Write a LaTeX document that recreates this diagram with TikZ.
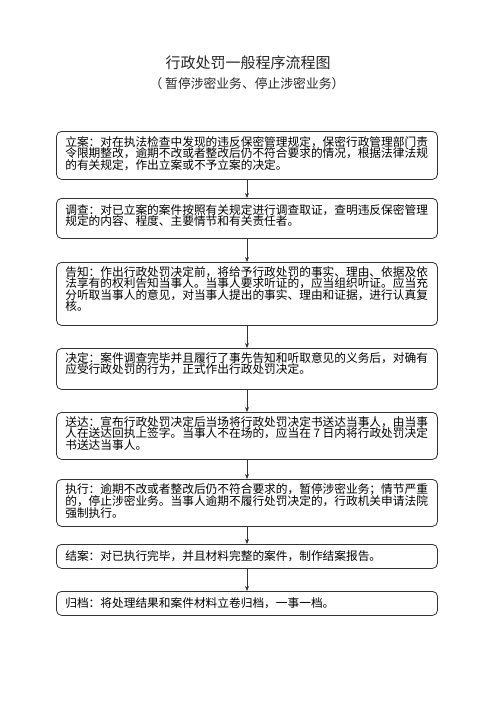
\documentclass[tikz,border=0pt]{standalone}
\usepackage{fontspec}
\setmainfont{Noto Sans CJK SC}
\newfontfamily\cjk{Noto Sans CJK SC}
\usetikzlibrary{arrows.meta}
\tikzset{
  stepbox/.style={draw=black!80, line width=0.8pt, rounded corners=5pt, minimum width=381pt, anchor=north},
  boxtext/.style={anchor=north west, inner sep=0pt, align=left, font=\cjk\fontsize{11.7pt}{11.6pt}\selectfont},
  flow/.style={draw=black!80, line width=0.8pt, -{Stealth[length=5pt,width=4pt]}},
}
\begin{document}
\begin{tikzpicture}[x=1pt,y=-1pt]
\useasboundingbox (0,0) rectangle (496,702);
\fill[white] (0,0) rectangle (496,702);
\node[font=\cjk\fontsize{15pt}{16pt}\selectfont, text=black!85] (t1) at (248,63) {行政处罚一般程序流程图};
\node[font=\cjk\fontsize{12.8pt}{14pt}\selectfont, text=black!85] (t2) at (247,84) {（ 暂停涉密业务、停止涉密业务）};

% boxes
\node[stepbox, minimum height=48pt] (b1) at (247,131) {};
\node[boxtext] at ([shift={(9,5)}]b1.north west) {立案：对在执法检查中发现的违反保密管理规定，保密行政管理部门责\\令限期整改，逾期不改或者整改后仍不符合要求的情况，根据法律法规\\的有关规定，作出立案或不予立案的决定。};

\node[stepbox, minimum height=40pt] (b2) at (247,198) {};
\node[boxtext] at ([shift={(9,6)}]b2.north west) {调查：对已立案的案件按照有关规定进行调查取证，查明违反保密管理\\规定的内容、程度、主要情节和有关责任者。};

\node[stepbox, minimum height=63pt] (b3) at (247,262) {};
\node[boxtext] at ([shift={(9,4)}]b3.north west) {告知：作出行政处罚决定前，将给予行政处罚的事实、理由、依据及依\\法享有的权利告知当事人。当事人要求听证的，应当组织听证。应当充\\分听取当事人的意见，对当事人提出的事实、理由和证据，进行认真复\\核。};

\node[stepbox, minimum height=41pt] (b4) at (247,348) {};
\node[boxtext] at ([shift={(9,4)}]b4.north west) {决定：案件调查完毕并且履行了事先告知和听取意见的义务后，对确有\\应受行政处罚的行为，正式作出行政处罚决定。};

\node[stepbox, minimum height=47pt] (b5) at (247,412) {};
\node[boxtext] at ([shift={(9,4)}]b5.north west) {送达：宣布行政处罚决定后当场将行政处罚决定书送达当事人，由当事\\人在送达回执上签字。当事人不在场的，应当在 7 日内将行政处罚决定\\书送达当事人。};

\node[stepbox, minimum height=47pt] (b6) at (247,479) {};
\node[boxtext] at ([shift={(9,4)}]b6.north west) {执行：逾期不改或者整改后仍不符合要求的，暂停涉密业务；情节严重\\的，停止涉密业务。当事人逾期不履行处罚决定的，行政机关申请法院\\强制执行。};

\node[stepbox, minimum height=24pt] (b7) at (247,544) {};
\node[boxtext, anchor=west] at ([xshift=9pt]b7.west) {结案：对已执行完毕，并且材料完整的案件，制作结案报告。};

\node[stepbox, minimum height=24pt] (b8) at (247,591) {};
\node[boxtext, anchor=west] at ([xshift=9pt]b8.west) {归档：将处理结果和案件材料立卷归档，一事一档。};

\foreach \a/\b in {b1/b2,b2/b3,b3/b4,b4/b5,b5/b6,b6/b7,b7/b8}
  \draw[flow] (\a.south) -- (\b.north);
\end{tikzpicture}
\end{document}
